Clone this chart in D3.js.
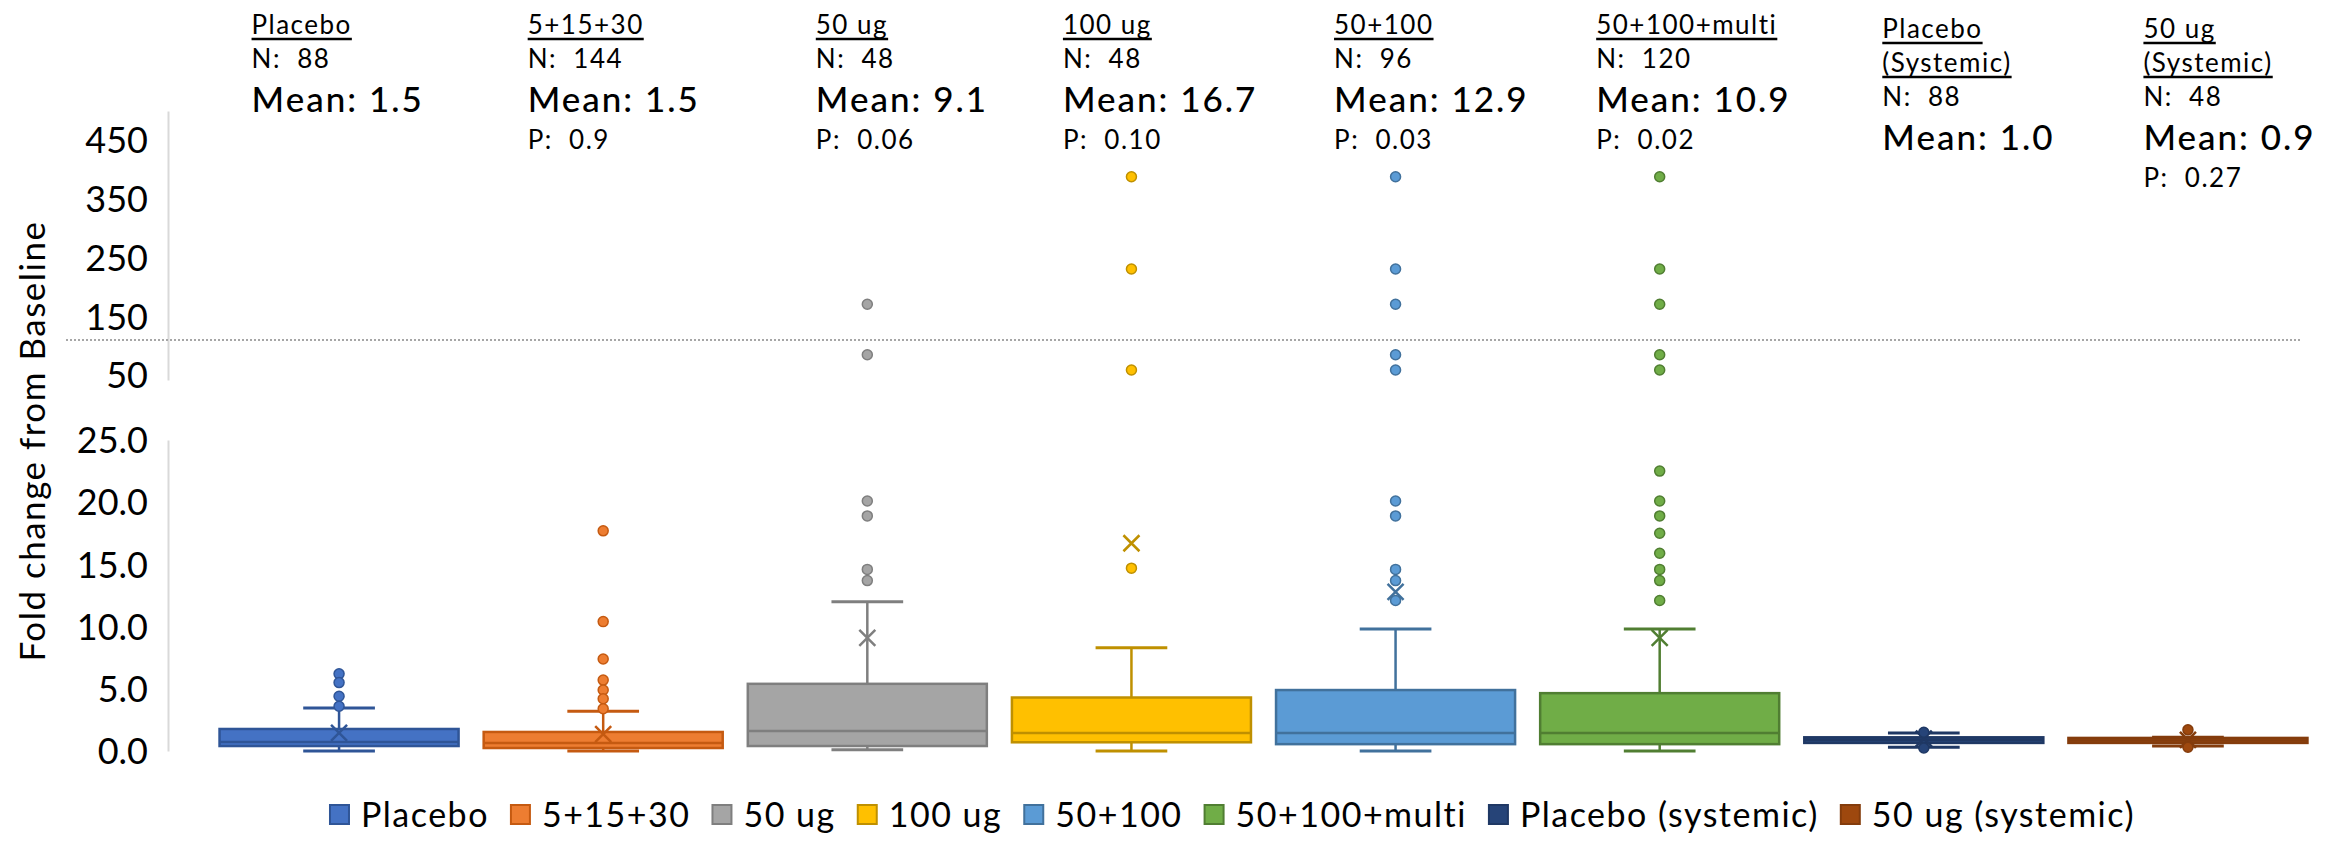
<!DOCTYPE html>
<html>
<head>
<meta charset="utf-8">
<script src="https://cdn.jsdelivr.net/npm/d3@7"></script>
<style>
  body { margin: 0; background: #fff; }
  text { font-family: Lato, "Open Sans", sans-serif; fill: #000; }
</style>
</head>
<body>
<svg id="chart" width="2328" height="841"></svg>
<script>
// ---- data ----
const groups = ["Placebo", "5+15+30", "50 ug", "100 ug", "50+100", "50+100+multi", "Placebo (systemic)", "50 ug (systemic)"];
const headerTitles = [["Placebo"], ["5+15+30"], ["50 ug"], ["100 ug"], ["50+100"], ["50+100+multi"], ["Placebo", "(Systemic)"], ["50 ug", "(Systemic)"]];
const nValues = [88, 144, 48, 48, 96, 120, 88, 48];
const meanLabels = ["1.5", "1.5", "9.1", "16.7", "12.9", "10.9", "1.0", "0.9"];
const pValues = [null, "0.9", "0.06", "0.10", "0.03", "0.02", null, "0.27"];

const q1 = [0.4, 0.24, 0.4, 0.7, 0.55, 0.55, 0.65, 0.65];
const medians = [0.72, 0.64, 1.6, 1.45, 1.45, 1.45, 0.9, 0.85];
const q3 = [1.77, 1.53, 5.4, 4.3, 4.9, 4.65, 1.1, 1.05];
const whiskerLow = [0, 0, 0.1, 0, 0, 0, 0.3, 0.4];
const whiskerHigh = [3.45, 3.2, 12.0, 8.3, 9.8, 9.8, 1.45, 1.1];
const meanMarks = [1.45, 1.35, 9.1, 16.7, 12.8, 9.1, 1.0, 0.9];
const outliers = [
    [6.2, 5.5, 4.4, 3.6],
    [17.7, 10.4, 7.4, 5.7, 4.9, 4.2, 3.4],
    [171, 85, 20.1, 18.9, 14.6, 13.7],
    [388, 231, 59, 14.7],
    [388, 231, 171, 85, 59, 20.1, 18.9, 14.6, 13.7, 12.1],
    [388, 231, 171, 85, 59, 22.5, 20.1, 18.9, 17.5, 15.9, 14.6, 13.7, 12.1],
    [1.5, 0.25],
    [1.7, 0.3]
];

const lowerTicks = [0, 5, 10, 15, 20, 25];
const upperTicks = [50, 150, 250, 350, 450];
const breakValue = 110;

// ---- styling ----
const fills = ["#4472C4", "#ED7D31", "#A5A5A5", "#FFC000", "#5B9BD5", "#70AD47", "#264478", "#9E480E"];
const strokes = ["#2F5597", "#C55A11", "#7F7F7F", "#BF9000", "#41719C", "#507E32", "#1F3864", "#843C0C"];
const labelDx = [32, 44, 68, 51, 58, 56, 78, 75];

const svg = d3.select("#chart");

const x = d3.scaleBand()
    .domain(groups)
    .range([207, 2320])
    .paddingInner(0.095)
    .paddingOuter(0.0475);

const yLow = d3.scaleLinear().domain([0, 25]).range([751, 440]);
const yUp = d3.scaleLinear().domain([42, 500]).range([380, 111]);
const yAny = v => v > 25 ? yUp(v) : yLow(v);

// axes
function styleAxis(g) {
    g.select(".domain").attr("stroke", "#D9D9D9").attr("stroke-width", 2);
    g.selectAll(".tick text")
        .style("font-family", "Lato, sans-serif")
        .style("font-size", "36px")
        .attr("fill", "#000");
}

svg.append("g")
    .attr("transform", "translate(168,0)")
    .call(d3.axisLeft(yLow).tickValues(lowerTicks).tickFormat(d3.format(".1f")).tickSize(0).tickPadding(20))
    .call(styleAxis);

svg.append("g")
    .attr("transform", "translate(168,0)")
    .call(d3.axisLeft(yUp).tickValues(upperTicks).tickFormat(d3.format("d")).tickSize(0).tickPadding(20))
    .call(styleAxis);

svg.selectAll(".tick text").attr("dy", "0.35em");

// break line
svg.append("line")
    .attr("x1", 66).attr("x2", 2300)
    .attr("y1", yUp(breakValue)).attr("y2", yUp(breakValue))
    .attr("stroke", "#A6A6A6")
    .attr("stroke-width", 2)
    .attr("stroke-dasharray", "2,2");

// y title
svg.append("text")
    .attr("transform", `translate(45,${(yUp(500) + yLow(0)) / 2 + 10}) rotate(-90)`)
    .attr("text-anchor", "middle")
    .style("font-size", "35px")
    .style("letter-spacing", "1.5px")
    .text("Fold change from Baseline");

// boxes
const data = groups.map((g, i) => ({
    g, i, q1: q1[i], med: medians[i], q3: q3[i],
    lo: whiskerLow[i], hi: whiskerHigh[i], mean: meanMarks[i], out: outliers[i]
}));

const bw = x.bandwidth();
const capW = bw * 0.3;

const box = svg.selectAll(".box")
    .data(data)
    .join("g")
    .attr("class", "box")
    .attr("transform", d => `translate(${x(d.g)},0)`);

// whiskers
box.append("line")
    .attr("x1", bw / 2).attr("x2", bw / 2)
    .attr("y1", d => yLow(d.hi)).attr("y2", d => yLow(d.lo))
    .attr("stroke", d => strokes[d.i]).attr("stroke-width", 2.5);

box.selectAll(".cap")
    .data(d => [d.hi, d.lo].map(v => ({ v, i: d.i })))
    .join("line")
    .attr("x1", bw / 2 - capW / 2).attr("x2", bw / 2 + capW / 2)
    .attr("y1", c => yLow(c.v)).attr("y2", c => yLow(c.v))
    .attr("stroke", c => strokes[c.i]).attr("stroke-width", 3);

box.append("rect")
    .attr("x", 0)
    .attr("width", bw)
    .attr("y", d => yLow(d.q3))
    .attr("height", d => yLow(d.q1) - yLow(d.q3))
    .attr("fill", d => fills[d.i])
    .attr("stroke", d => strokes[d.i])
    .attr("stroke-width", 2.5);

box.append("line")
    .attr("x1", 0).attr("x2", bw)
    .attr("y1", d => yLow(d.med)).attr("y2", d => yLow(d.med))
    .attr("stroke", d => strokes[d.i]).attr("stroke-width", 2.5);

// mean markers
box.append("path")
    .attr("d", d => {
        const cx = bw / 2, cy = yLow(d.mean), s = 8;
        return `M${cx - s},${cy - s}L${cx + s},${cy + s}M${cx - s},${cy + s}L${cx + s},${cy - s}`;
    })
    .attr("stroke", d => strokes[d.i])
    .attr("stroke-width", 2.5)
    .attr("fill", "none");

// outliers
box.selectAll(".out")
    .data(d => d.out.map(v => ({ v, i: d.i })))
    .join("circle")
    .attr("class", "out")
    .attr("cx", bw / 2)
    .attr("cy", o => yAny(o.v))
    .attr("r", 5)
    .attr("fill", o => fills[o.i])
    .attr("stroke", o => strokes[o.i])
    .attr("stroke-width", 1.5);

// header annotations
groups.forEach((g, i) => {
    const hx = x(g) + labelDx[i];
    let y = headerTitles[i].length > 1 ? 38 : 34;
    const head = svg.append("g");
    headerTitles[i].forEach((t, k) => {
        const tt = head.append("text")
            .attr("x", hx).attr("y", y)
            .style("font-size", "26px")
            .style("letter-spacing", "1.5px")
            .text(t);
        const w = tt.node().getComputedTextLength();
        head.append("line")
            .attr("x1", hx).attr("x2", hx + w)
            .attr("y1", y + 5).attr("y2", y + 5)
            .attr("stroke", "#000").attr("stroke-width", 2.5);
        if (k < headerTitles[i].length - 1) y += 34;
    });
    y += 34;
    head.append("text")
        .attr("x", hx).attr("y", y)
        .style("font-size", "26px")
        .style("letter-spacing", "1.5px")
        .style("white-space", "pre")
        .text(`N:  ${nValues[i]}`);
    y += 44;
    head.append("text")
        .attr("x", hx).attr("y", y)
        .style("font-size", "35px")
        .style("font-weight", 500)
        .style("letter-spacing", "2px")
        .text(`Mean: ${meanLabels[i]}`);
    if (pValues[i] !== null) {
        y += 37;
        head.append("text")
            .attr("x", hx).attr("y", y)
            .style("font-size", "26px")
            .style("letter-spacing", "1.5px")
            .style("white-space", "pre")
            .text(`P:  ${pValues[i]}`);
    }
});

// legend
const legend = svg.append("g");
let lx = 0;
groups.forEach((g, i) => {
    const item = legend.append("g").attr("transform", `translate(${lx},0)`);
    item.append("rect")
        .attr("x", 1).attr("y", -10)
        .attr("width", 19).attr("height", 19)
        .attr("fill", fills[i])
        .attr("stroke", strokes[i])
        .attr("stroke-width", 2);
    const t = item.append("text")
        .attr("x", 32).attr("y", 12)
        .style("font-size", "34px")
        .style("letter-spacing", "1.5px")
        .text(g);
    lx += 32 + t.node().getComputedTextLength() + 21;
});
const legendW = lx - 21;
legend.attr("transform", `translate(${1232 - legendW / 2},815)`);
</script>
</body>
</html>
